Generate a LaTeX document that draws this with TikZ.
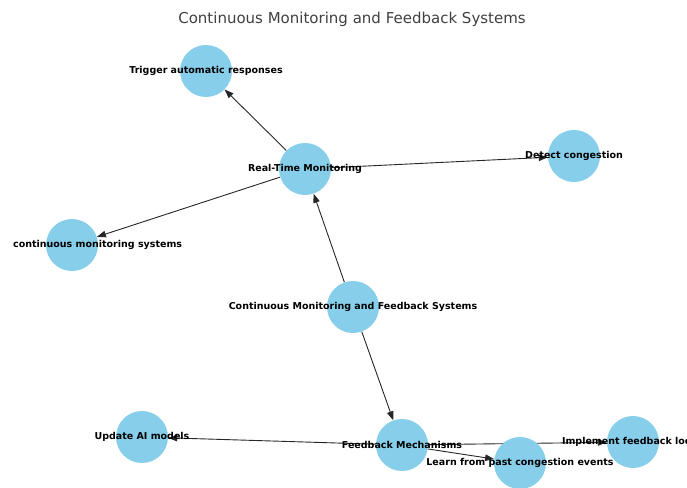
\documentclass[tikz,border=0pt]{standalone}
\usepackage{fontspec}
\setmainfont{DejaVu Sans}
\usetikzlibrary{arrows.meta}
\definecolor{skyblue}{HTML}{87CEEB}
\definecolor{titlegrey}{HTML}{404040}
\pgfdeclarelayer{background}
\pgfdeclarelayer{foreground}
\pgfsetlayers{background,main,foreground}
\tikzset{
  bubble/.style={circle, fill=skyblue, draw=none, minimum size=52pt, inner sep=0pt},
  lbl/.style={font=\bfseries\fontsize{9.5}{11}\selectfont, text=black, inner sep=0pt},
  link/.style={draw=black!85, line width=0.9pt, -{Stealth[length=9pt,width=6.5pt,inset=0pt]}},
}
\begin{document}
\begin{tikzpicture}[x=1pt,y=-1pt]
  \useasboundingbox (0,0) rectangle (687,487);
  \clip (0,0) rectangle (687,487);
  % title
  \node[font=\fontsize{15}{18}\selectfont, text=titlegrey] (title) at (352,19) {Continuous Monitoring and Feedback Systems};
  % circles
  \node[bubble] (cmfs) at (353,307) {};
  \node[bubble] (rtm)  at (305,169) {};
  \node[bubble] (fm)   at (402,445) {};
  \node[bubble] (tar)  at (206,71) {};
  \node[bubble] (dc)   at (574,156) {};
  \node[bubble] (cms)  at (72,245) {};
  \node[bubble] (uai)  at (142,437) {};
  \node[bubble] (lpc)  at (520,463) {};
  \node[bubble] (ifl)  at (633,442) {};
  % connectors
  \begin{pgfonlayer}{background}
    \draw[link] (cmfs) -- (rtm);
    \draw[link] (cmfs) -- (fm);
    \draw[link] (rtm) -- (tar);
    \draw[link] (rtm) -- (dc);
    \draw[link] (rtm) -- (cms);
    \draw[link] (fm) -- (uai);
    \draw[link] (fm) -- (lpc);
    \draw[link] (fm) -- (ifl);
  \end{pgfonlayer}
  % labels
  \begin{pgfonlayer}{foreground}
    \node[lbl] (cmfsl) at (cmfs) {Continuous Monitoring and Feedback Systems};
    \node[lbl] (rtml)  at (rtm)  {Real-Time Monitoring};
    \node[lbl] (fml)   at (fm)   {Feedback Mechanisms};
    \node[lbl] (tarl)  at (tar)  {Trigger automatic responses};
    \node[lbl] (dcl)   at (dc)   {Detect congestion};
    \node[lbl, anchor=west] (cmsl) at (13,245) {continuous monitoring systems};
    \node[lbl] (uail)  at (uai)  {Update AI models};
    \node[lbl] (lpcl)  at (lpc)  {Learn from past congestion events};
    \node[lbl] (ifll)  at (ifl)  {Implement feedback loops};
  \end{pgfonlayer}
\end{tikzpicture}
\end{document}
